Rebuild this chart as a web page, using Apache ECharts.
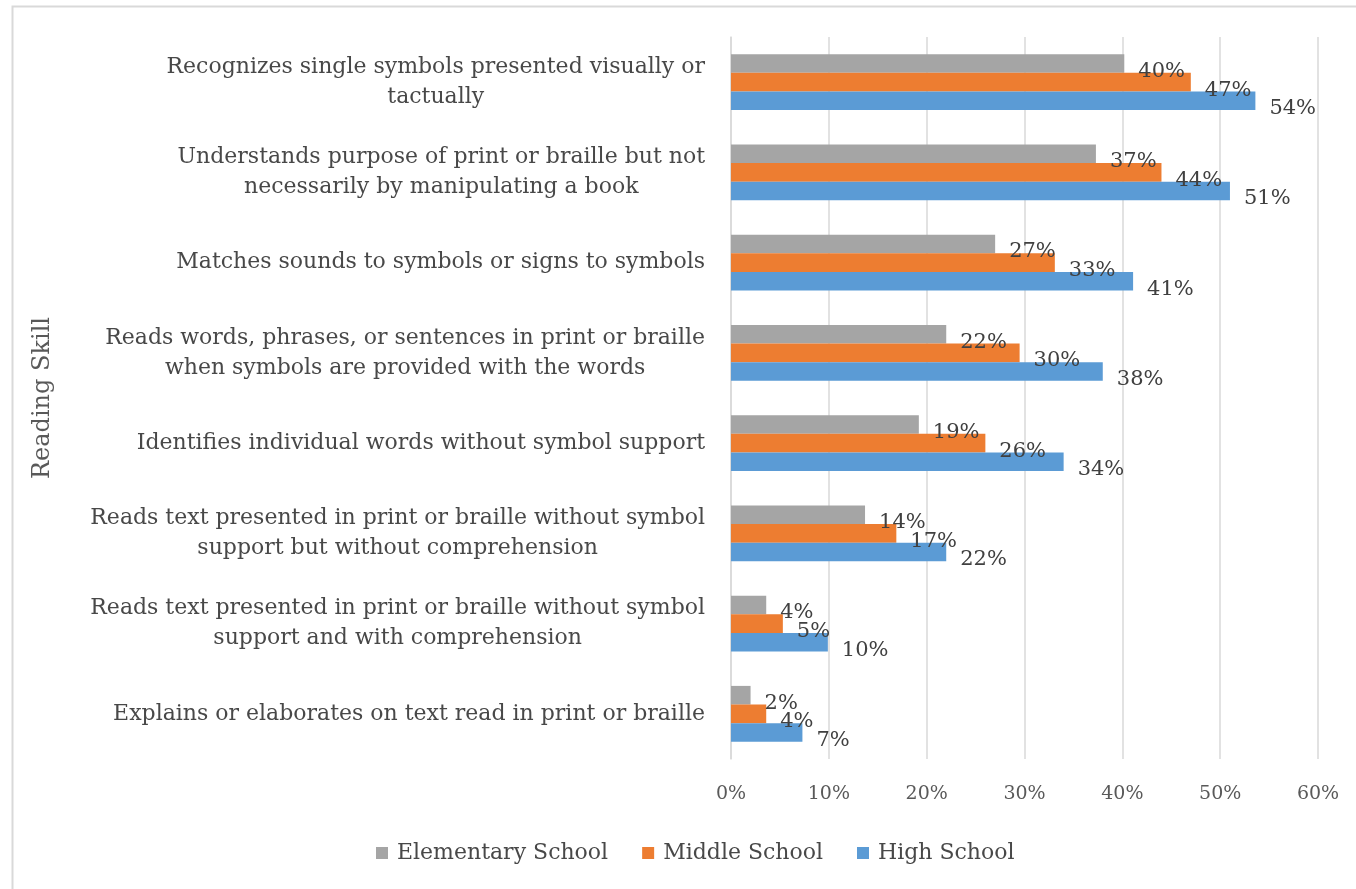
<!DOCTYPE html>
<html>
<head>
<meta charset="utf-8">
<script src="https://cdn.jsdelivr.net/npm/echarts@6/dist/echarts.min.js"></script>
<style>
html,body{margin:0;padding:0;background:#fff;}
#chart{width:1356px;height:889px;}
</style>
</head>
<body>
<div id="chart"></div>
<script>
const categories = [
  "Recognizes single symbols presented visually or\ntactually",
  "Understands purpose of print or braille but not\nnecessarily by manipulating a book",
  "Matches sounds to symbols or signs to symbols",
  "Reads words, phrases, or sentences in print or braille\nwhen symbols are provided with the words",
  "Identifies individual words without symbol support",
  "Reads text presented in print or braille without symbol\nsupport but without comprehension",
  "Reads text presented in print or braille without symbol\nsupport and with comprehension",
  "Explains or elaborates on text read in print or braille"
];
const seriesNames = ["Elementary School", "Middle School", "High School"];
const elementary = [40.2, 37.3, 27.0, 22.0, 19.2, 13.7, 3.6, 2.0];
const middle = [47.0, 44.0, 33.1, 29.5, 26.0, 16.9, 5.3, 3.6];
const high = [53.6, 51.0, 41.1, 38.0, 34.0, 22.0, 9.9, 7.3];
const xTicks = [0, 10, 20, 30, 40, 50, 60];
const axisTitle = "Reading Skill";

const colors = ["#A5A5A5", "#ED7D31", "#5B9BD5"];
const FONT = "DejaVu Serif";

const chart = echarts.init(document.getElementById('chart'));
const labelCfg = {
  show: true,
  position: 'right',
  distance: 14,
  offset: [0, 8],
  fontFamily: FONT,
  fontSize: 21,
  color: '#404040',
  formatter: p => Math.round(p.value) + '%'
};
function mkSeries(name, data, i) {
  return {
    name: name,
    type: 'bar',
    data: data,
    barGap: '0%',
    barCategoryGap: '38%',
    itemStyle: { color: colors[i] },
    label: labelCfg,
    emphasis: { disabled: true }
  };
}
chart.setOption({
  animation: false,
  color: colors,
  graphic: [{
    type: 'rect',
    shape: { x: 12.5, y: 6.5, width: 1400, height: 950 },
    style: { fill: 'none', stroke: '#d9d9d9', lineWidth: 2 },
    silent: true
  }],
  grid: { left: 731, right: 38, top: 37, bottom: 130 },
  xAxis: {
    type: 'value',
    min: xTicks[0],
    max: xTicks[xTicks.length - 1],
    interval: 10,
    axisLine: { show: false },
    axisTick: { show: false },
    splitLine: { show: true, lineStyle: { color: '#d9d9d9', width: 1.5 } },
    axisLabel: {
      margin: 26,
      fontFamily: FONT,
      fontSize: 19,
      color: '#595959',
      formatter: '{value}%'
    }
  },
  yAxis: {
    type: 'category',
    data: categories,
    inverse: true,
    name: axisTitle,
    nameLocation: 'middle',
    nameRotate: 90,
    nameGap: 676,
    nameTextStyle: { fontFamily: FONT, fontSize: 24, color: '#595959' },
    axisLine: { show: true, lineStyle: { color: '#d9d9d9', width: 1.5 } },
    axisTick: { show: false },
    axisLabel: {
      margin: 26,
      align: 'right',
      formatter: v => v.split('\n').map(l => '{c|' + l + '}').join('\n'),
      rich: {
        c: { align: 'center', fontFamily: FONT, fontSize: 22, lineHeight: 30, color: '#484848' }
      }
    }
  },
  legend: {
    data: seriesNames,
    left: 371,
    top: 837,
    icon: 'rect',
    itemWidth: 12,
    itemHeight: 12,
    itemGap: 34,
    textStyle: { fontFamily: FONT, fontSize: 22, color: '#484848', padding: [0, 0, 0, 4] }
  },
  series: [
    mkSeries(seriesNames[0], elementary, 0),
    mkSeries(seriesNames[1], middle, 1),
    mkSeries(seriesNames[2], high, 2)
  ]
});
</script>
</body>
</html>
